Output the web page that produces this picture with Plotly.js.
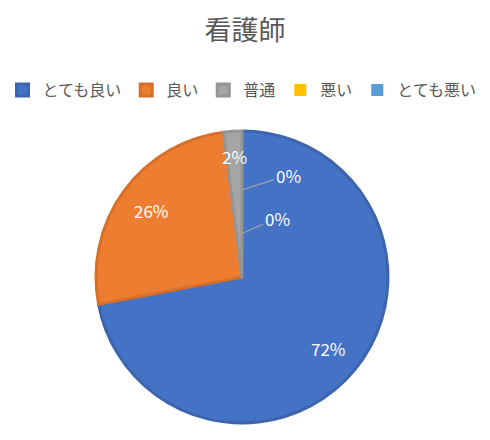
<!DOCTYPE html>
<html>
<head>
<meta charset="utf-8">
<script src="https://cdn.plot.ly/plotly-3.0.1.min.js"></script>
<style>
  html, body { margin: 0; padding: 0; background: #fff; }
  #chart { width: 490px; height: 440px; }
</style>
</head>
<body>
<div id="chart"></div>
<script>
// 看護師アンケート (回答数)
const labels = ['とても良い', '良い', '普通', '悪い', 'とても悪い'];
const counts = [36, 13, 1, 0, 0];
const colors = ['#4472C4', '#ED7D31', '#A5A5A5', '#FFC000', '#5B9BD5'];
const edgeColors = ['#3C65AE', '#D86F29', '#959595', '#E5AD00', '#5089BE'];

const CHART = document.getElementById('chart');
const font = '"Noto Sans CJK JP", "Noto Sans", sans-serif';

// 円の位置 (余白から)
const W = 490, H = 440;
const M = { l: 0, r: 6, t: 131, b: 17 };
const pw = W - M.l - M.r, ph = H - M.t - M.b;
const R = Math.min(pw, ph) / 2;
const cx = M.l + pw / 2, cy = M.t + ph / 2;
const toPaper = (px, py) => [(px - M.l) / pw, (H - M.b - py) / ph];

// ラベル: 各扇形の中央角、半径の 0.77 の位置 (Excel 風)
const total = counts.reduce((a, b) => a + b, 0);
const labelNotes = [];
let cum = 0;
counts.forEach((v, i) => {
  const mid = (cum + v / 2) / total * 2 * Math.PI;
  cum += v;
  if (v === 0) return;
  const f = v / total < 0.05 ? 0.83 : 0.77;
  const [x, y] = toPaper(cx + f * R * Math.sin(mid), cy - f * R * Math.cos(mid));
  labelNotes.push({
    xref: 'paper', yref: 'paper', x: x, y: y, showarrow: false,
    xanchor: 'center', yanchor: 'middle',
    text: Math.round(v / total * 100) + '%',
    font: { family: font, size: 17, color: '#ffffff' }
  });
});

// ゼロ件の項目の引き出し線ラベル
const zeroOffsets = [[242, 190, 46, -15], [241, 234, 36, -16]];
counts.forEach((v, i) => {
  if (v !== 0) return;
  const o = zeroOffsets.shift();
  const [x, y] = toPaper(o[0], o[1]);
  labelNotes.push({
    xref: 'paper', yref: 'paper', x: x, y: y, ax: o[2], ay: o[3],
    text: '0%', showarrow: true, arrowhead: 0, arrowwidth: 1.2,
    arrowcolor: '#A6A6A6', standoff: 0,
    font: { family: font, size: 17, color: '#ffffff' }
  });
});

Plotly.newPlot(CHART, [{
  type: 'pie',
  labels: labels,
  values: counts,
  sort: false,
  direction: 'clockwise',
  rotation: 0,
  marker: {
    colors: colors,
    line: { color: edgeColors, width: counts.map(v => v ? 3 : 0) }
  },
  textinfo: 'none',
  hoverinfo: 'label+percent'
}], {
  width: W,
  height: H,
  margin: M,
  paper_bgcolor: '#ffffff',
  title: {
    text: '看護師',
    x: 0.5, xanchor: 'center',
    y: 0.93, yanchor: 'middle', yref: 'container',
    font: { family: font, size: 27, color: '#595959' }
  },
  showlegend: true,
  legend: {
    orientation: 'h',
    x: 0.5, xanchor: 'center',
    y: 1.14, yanchor: 'middle',
    font: { family: font, size: 16, color: '#595959' },
    itemwidth: 30,
    traceorder: 'normal'
  },
  annotations: labelNotes
}, { displayModeBar: false });
</script>
</body>
</html>
